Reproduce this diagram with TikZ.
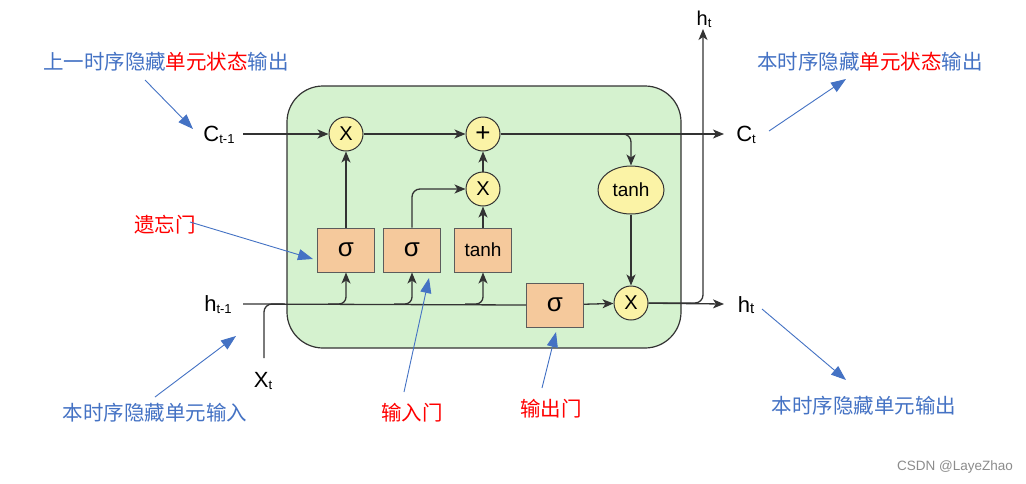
\documentclass[tikz,border=0pt]{standalone}
\usepackage{fontspec}
\setmainfont{Liberation Sans}
\newfontfamily\cjk{Noto Sans CJK SC}
\usetikzlibrary{arrows.meta,shapes.geometric}
\definecolor{cellgreen}{HTML}{D5F2CF}
\definecolor{opfill}{HTML}{FBF3A6}
\definecolor{boxfill}{HTML}{F5C99C}
\definecolor{annblue}{HTML}{4472C4}
\definecolor{annred}{HTML}{FF0000}
\definecolor{darkline}{HTML}{333333}
\begin{document}
\begin{tikzpicture}[x=1pt,y=-1pt,
  cell/.style={draw=darkline,line width=1.2pt,fill=cellgreen,rounded corners=36pt,minimum width=394pt,minimum height=262pt},
  opc/.style={circle,draw=darkline,line width=1pt,fill=opfill,minimum size=34pt,inner sep=0pt,font=\fontsize{20}{20}\selectfont},
  gate/.style={rectangle,draw=darkline!80,line width=1pt,fill=boxfill,minimum width=57pt,minimum height=44pt,inner sep=0pt},
  tanhell/.style={ellipse,draw=darkline,line width=1pt,fill=opfill,minimum width=66pt,minimum height=48pt,inner sep=0pt,font=\fontsize{19}{19}\selectfont},
  plain/.style={draw=darkline,line width=1.3pt},
  flow/.style={draw=darkline,line width=1.3pt,-{Stealth[length=11pt,width=9pt,inset=3pt]}},
  ann/.style={draw=annblue,line width=0.9pt,-{Triangle[length=15pt,width=11pt]}},
  lbl/.style={inner sep=0pt,font=\fontsize{22}{22}\selectfont},
  cn/.style={inner sep=0pt,font=\cjk\fontsize{20.5}{20.5}\selectfont},
]
\useasboundingbox (0,0) rectangle (1026,483);
\fill[white] (0,0) rectangle (1026,483);

% cell
\node[cell] (cell) at (484,217) {};

% operators
\node[opc] (m1) at (346,134) {X};
\node[opc,font=\fontsize{26}{26}\selectfont] (plus) at (483,134) {+};
\node[opc] (m2) at (483,189) {X};
\node[opc] (m3) at (631,303) {X};
\node[tanhell] (tE) at (631,190) {tanh};

% gates
\node[gate,font=\fontsize{26}{26}\selectfont] (s1) at (346,250) {σ};
\node[gate,font=\fontsize{26}{26}\selectfont] (s2) at (412,250) {σ};
\node[gate,font=\fontsize{19}{19}\selectfont] (tb) at (483,250) {tanh};
\node[gate,font=\fontsize{26}{26}\selectfont] (s3) at (555,305) {σ};

% labels
\node[lbl] (ctm1) at (219,135) {C\raisebox{-2pt}{\fontsize{13}{13}\selectfont t-1}};
\node[lbl] (ct) at (746,135) {C\raisebox{-2pt}{\fontsize{13}{13}\selectfont t}};
\node[lbl] (htm1) at (218,305) {h\raisebox{-2pt}{\fontsize{13}{13}\selectfont t-1}};
\node[lbl] (ht) at (746,305) {h\raisebox{-1pt}{\fontsize{15}{15}\selectfont t}};
\node[lbl,font=\fontsize{20}{20}\selectfont] (httop) at (704,19) {h\raisebox{-2pt}{\fontsize{13}{13}\selectfont t}};
\node[lbl] (xt) at (263,381) {X\raisebox{-2pt}{\fontsize{13}{13}\selectfont t}};

% coordinates
\coordinate (cin) at (243,134);
\coordinate (cout) at (724,134);
\coordinate (hin) at (243,304);
\coordinate (hout) at (724,304);
\coordinate (htopend) at (703,29);
\coordinate (brc) at (612,134);
\coordinate (b1) at (328,304);
\coordinate (b2) at (394,304);
\coordinate (b3) at (465,304);
\coordinate (xbot) at (264,358);
\coordinate (xjoin) at (285,304);

% cell state line
\draw[flow] (cin) -- (m1);
\draw[flow] (m1) -- (plus);
\draw[flow] (plus) -- (cout);
\draw[flow,rounded corners=8pt] (brc) -| (tE.north);
\draw[flow] (tE) -- (m3);

% hidden line
\draw[plain] (hin) -- (s3.west);
\draw[plain,rounded corners=8pt] (xbot) |- (xjoin);
\draw[flow,rounded corners=7pt] (b1) -| (s1.south);
\draw[flow,rounded corners=7pt] (b2) -| (s2.south);
\draw[flow,rounded corners=7pt] (b3) -| (tb.south);
\draw[flow] (s3) -- (m3);
\draw[flow] (m3) -- (hout);
\draw[flow,rounded corners=8pt] (m3.east) -| (htopend);

% gate connections
\draw[flow] (s1) -- (m1);
\draw[flow,rounded corners=8pt] (s2.north) |- (m2.west);
\draw[flow] (tb) -- (m2);
\draw[flow] (m2) -- (plus);

% annotations
\node[cn,text=annblue] (a1) at (166,62) {上一时序隐藏\textcolor{annred}{单元状态}输出};
\node[cn,text=annblue] (a2) at (870,62) {本时序隐藏\textcolor{annred}{单元状态}输出};
\node[cn,text=annred] (a3) at (165,225) {遗忘门};
\node[cn,text=annblue] (a4) at (155,413) {本时序隐藏单元输入};
\node[cn,text=annred] (a5) at (412,413) {输入门};
\node[cn,text=annred] (a6) at (551,409) {输出门};
\node[cn,text=annblue] (a7) at (864,406) {本时序隐藏单元输出};
\node[inner sep=0pt,text=black!45,font=\fontsize{13.5}{13.5}\selectfont] (wm) at (955,467) {CSDN @LayeZhao};

\coordinate (p1s) at (145,80);   \coordinate (p1e) at (193,129);
\coordinate (p2s) at (769,131);  \coordinate (p2e) at (846,79);
\coordinate (p3s) at (190,222);  \coordinate (p3e) at (313,259);
\coordinate (p4s) at (155,397);  \coordinate (p4e) at (236,336);
\coordinate (p5s) at (404,392);  \coordinate (p5e) at (429,278);
\coordinate (p6s) at (542,388);  \coordinate (p6e) at (556,332);
\coordinate (p7s) at (762,309);  \coordinate (p7e) at (846,380);
\draw[ann] (p1s) -- (p1e);
\draw[ann] (p2s) -- (p2e);
\draw[ann] (p3s) -- (p3e);
\draw[ann] (p4s) -- (p4e);
\draw[ann] (p5s) -- (p5e);
\draw[ann] (p6s) -- (p6e);
\draw[ann] (p7s) -- (p7e);
\end{tikzpicture}
\end{document}
